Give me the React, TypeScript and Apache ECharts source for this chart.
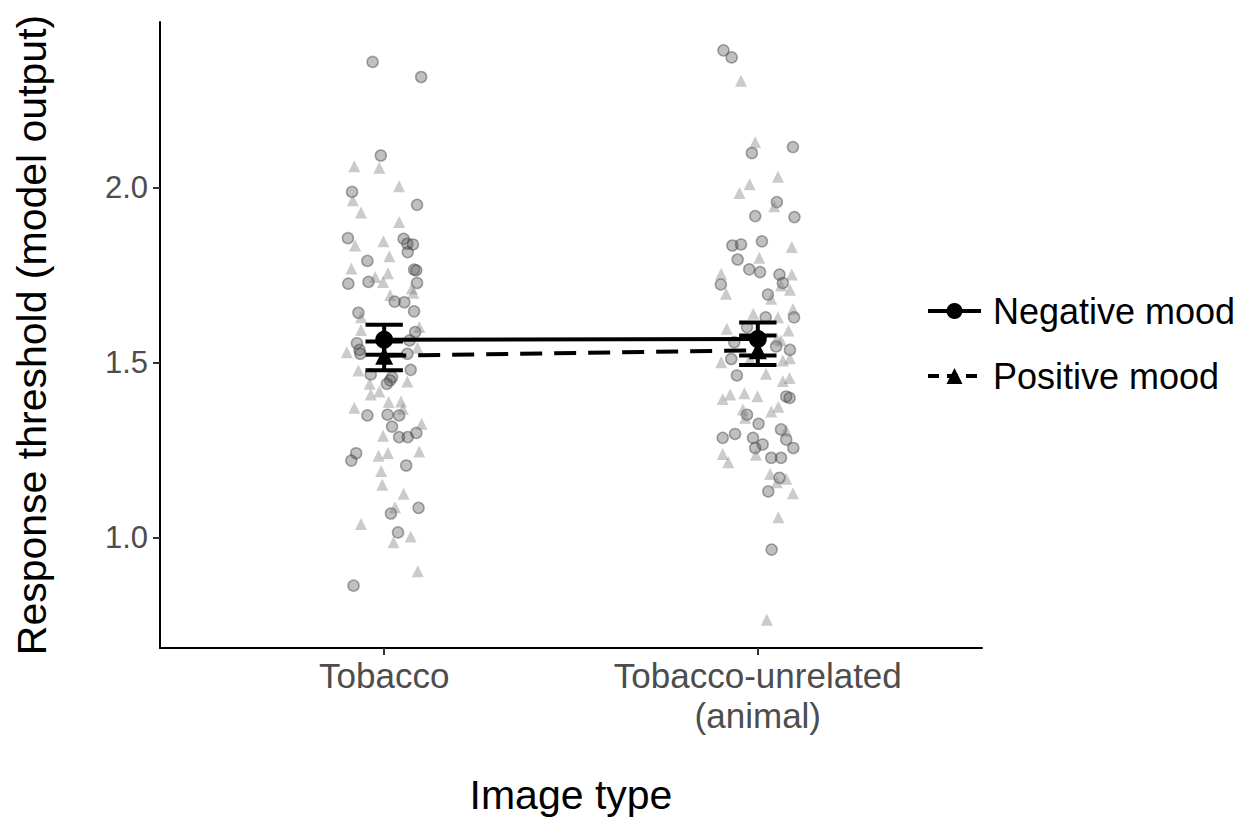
import React, { useEffect, useRef } from "react";
import * as echarts from "echarts";

const categories = ["Tobacco", "Tobacco-unrelated\n(animal)"];
const categoryPositions = [1, 2];
const yTicks = [1.0, 1.5, 2.0];

const negMeans = [1.565, 1.567];
const negSE = [0.043, 0.047];
const posMeans = [1.519, 1.535];
const posSE = [0.041, 0.042];

// jittered individual points [x, y]
const negTobacco = [
  [0.969, 2.358], [1.099, 2.315], [0.991, 2.091], [0.914, 1.987], [1.088, 1.95],
  [0.903, 1.855], [1.052, 1.853], [1.062, 1.839], [1.077, 1.837], [1.063, 1.815],
  [0.955, 1.79], [1.08, 1.765], [1.086, 1.763], [0.904, 1.725], [0.958, 1.73],
  [1.088, 1.727], [1.028, 1.674], [1.054, 1.672], [1.08, 1.646], [0.931, 1.642],
  [1.083, 1.587], [0.927, 1.555], [0.934, 1.536], [0.936, 1.525], [1.068, 1.563],
  [1.062, 1.525], [1.071, 1.479], [0.964, 1.466], [1.021, 1.458], [1.016, 1.449],
  [1.007, 1.439], [0.955, 1.349], [1.009, 1.351], [1.04, 1.349], [1.021, 1.317],
  [1.04, 1.287], [1.063, 1.287], [1.086, 1.299], [0.925, 1.241], [0.912, 1.22],
  [1.059, 1.206], [1.018, 1.069], [1.092, 1.085], [1.037, 1.015], [0.918, 0.863],
];
const posTobacco = [
  [0.92, 2.06], [0.987, 2.056], [1.04, 2.003], [0.916, 1.963], [0.938, 1.928],
  [1.04, 1.901], [0.922, 1.834], [0.998, 1.846], [1.014, 1.803], [0.912, 1.768],
  [1.01, 1.755], [0.976, 1.744], [0.997, 1.73], [1.074, 1.711], [1.078, 1.699],
  [1.016, 1.693], [0.938, 1.629], [1.094, 1.601], [0.938, 1.593], [0.9, 1.529],
  [1.089, 1.542], [0.931, 1.477], [1.062, 1.446], [0.961, 1.439], [0.987, 1.417],
  [0.964, 1.409], [1.012, 1.387], [1.045, 1.389], [1.05, 1.368], [0.92, 1.371],
  [1.1, 1.325], [0.997, 1.291], [0.985, 1.234], [1.01, 1.242], [1.094, 1.246],
  [0.992, 1.19], [0.995, 1.151], [1.052, 1.125], [1.029, 1.087], [0.938, 1.039],
  [1.071, 1.003], [1.025, 0.987], [1.09, 0.904],
];
const negAnimal = [
  [1.908, 2.391], [1.93, 2.371], [1.984, 2.098], [2.094, 2.115], [2.051, 1.958],
  [1.993, 1.918], [2.098, 1.915], [1.932, 1.834], [1.955, 1.837], [2.011, 1.846],
  [1.946, 1.794], [1.977, 1.766], [2.006, 1.758], [2.058, 1.751], [1.901, 1.723],
  [2.067, 1.727], [2.027, 1.694], [2.021, 1.629], [2.097, 1.629], [1.971, 1.601],
  [1.937, 1.558], [2.049, 1.546], [2.086, 1.536], [1.929, 1.51], [1.944, 1.463],
  [2.076, 1.403], [2.085, 1.399], [1.971, 1.351], [2.002, 1.325], [2.062, 1.309],
  [1.939, 1.296], [1.906, 1.285], [1.987, 1.285], [2.076, 1.28], [2.013, 1.266],
  [1.993, 1.256], [2.095, 1.256], [2.036, 1.228], [2.062, 1.228], [2.058, 1.171],
  [2.028, 1.132], [2.037, 0.966],
];
const posAnimal = [
  [1.955, 2.304], [1.993, 2.129], [2.054, 2.03], [1.978, 2.009], [1.951, 1.984],
  [2.044, 1.946], [2.091, 1.83], [2.004, 1.799], [1.902, 1.753], [2.091, 1.751],
  [2.062, 1.72], [1.915, 1.696], [2.086, 1.708], [2.036, 1.682], [2.094, 1.653],
  [1.988, 1.639], [2.054, 1.629], [2.082, 1.591], [1.917, 1.596], [2.051, 1.568],
  [2.062, 1.563], [1.902, 1.501], [1.979, 1.51], [2.067, 1.506], [2.086, 1.512],
  [2.022, 1.468], [2.067, 1.447], [2.085, 1.456], [1.906, 1.396], [1.926, 1.409],
  [1.964, 1.412], [1.999, 1.404], [2.055, 1.374], [1.96, 1.366], [2.036, 1.36],
  [1.966, 1.342], [2.076, 1.306], [1.906, 1.239], [1.921, 1.215], [1.995, 1.237],
  [2.033, 1.182], [2.076, 1.168], [2.051, 1.158], [2.094, 1.127], [2.055, 1.058],
  [2.024, 0.766],
];

const FONT = "'Liberation Sans', Arial, Helvetica, sans-serif";

function errorBarSeries(name: string, means: number[], se: number[]) {
  const data = categoryPositions.map((x, i) => [x, means[i] - se[i], means[i] + se[i]]);
  return {
    type: "custom",
    name: name + " error",
    z: 5,
    renderItem: (params: any, api: any) => {
      const x = api.value(0);
      const lo = api.value(1);
      const hi = api.value(2);
      const w = 0.05;
      const pLo = api.coord([x, lo]);
      const pHi = api.coord([x, hi]);
      const pLoL = api.coord([x - w, lo]);
      const pLoR = api.coord([x + w, lo]);
      const pHiL = api.coord([x - w, hi]);
      const pHiR = api.coord([x + w, hi]);
      const style = { stroke: "#000", lineWidth: 4, fill: null };
      return {
        type: "group",
        children: [
          { type: "line", shape: { x1: pLo[0], y1: pLo[1], x2: pHi[0], y2: pHi[1] }, style },
          { type: "line", shape: { x1: pLoL[0], y1: pLoL[1], x2: pLoR[0], y2: pLoR[1] }, style },
          { type: "line", shape: { x1: pHiL[0], y1: pHiL[1], x2: pHiR[0], y2: pHiR[1] }, style },
        ],
      };
    },
    data,
  };
}

export default function App() {
  const ref = useRef<HTMLDivElement>(null);
  useEffect(() => {
    if (!ref.current) return;
    const chart = echarts.init(ref.current, null, { renderer: "svg" });
    const circleStyle = {
      color: "rgba(80,80,80,0.45)",
      borderColor: "rgba(60,60,60,0.55)",
      borderWidth: 1.5,
    };
    const triStyle = { color: "rgba(120,120,120,0.48)" };
    chart.setOption({
      animation: false,
      backgroundColor: "#fff",
      textStyle: { fontFamily: FONT },
      grid: { left: 160, right: 268, top: 22, bottom: 175, containLabel: false },
      legend: {
        orient: "vertical",
        left: 921,
        top: 286,
        itemWidth: 53,
        itemHeight: 20,
        itemGap: 25,
        data: [
          { name: "Negative mood", lineStyle: { width: 4, type: "solid", color: "#000" } },
          { name: "Positive mood", lineStyle: { width: 4, type: [11, 8], color: "#000" } },
        ],
        lineStyle: { width: 4 },
        textStyle: { fontSize: 36, color: "#000", fontFamily: FONT, lineHeight: 40, padding: [0, 0, 0, 7] },
      },
      xAxis: {
        type: "value",
        min: 0.4,
        max: 2.6,
        name: "Image type",
        nameLocation: "middle",
        nameGap: 126,
        nameTextStyle: { fontSize: 41, color: "#000", fontFamily: FONT },
        axisLine: { show: true, lineStyle: { color: "#000", width: 2 } },
        axisTick: { show: true, length: 7, customValues: categoryPositions, lineStyle: { color: "#333", width: 2 } },
        axisLabel: {
          customValues: categoryPositions,
          margin: 7,
          fontSize: 35,
          lineHeight: 40,
          color: "#4d4d4d",
          fontFamily: FONT,
          formatter: (v: number) => {
            const i = categoryPositions.indexOf(Math.round(v));
            return i >= 0 ? categories[i] : "";
          },
        },
        splitLine: { show: false },
      },
      yAxis: {
        type: "value",
        min: 0.685,
        max: 2.472,
        name: "Response threshold (model output)",
        nameLocation: "middle",
        nameGap: 108,
        nameTextStyle: { fontSize: 41, color: "#000", fontFamily: FONT },
        axisLine: { show: true, lineStyle: { color: "#000", width: 2 } },
        axisTick: { show: true, length: 7, customValues: yTicks, lineStyle: { color: "#333", width: 2 } },
        axisLabel: {
          customValues: yTicks,
          margin: 12,
          fontSize: 31,
          color: "#4d4d4d",
          fontFamily: FONT,
          formatter: (v: number) => v.toFixed(1),
        },
        splitLine: { show: false },
      },
      series: [
        { type: "scatter", name: "neg pts T", data: negTobacco, symbol: "circle", symbolSize: 11, itemStyle: circleStyle, z: 2 },
        { type: "scatter", name: "neg pts A", data: negAnimal, symbol: "circle", symbolSize: 11, itemStyle: circleStyle, z: 2 },
        { type: "scatter", name: "pos pts T", data: posTobacco, symbol: "triangle", symbolSize: 12, itemStyle: triStyle, z: 2 },
        { type: "scatter", name: "pos pts A", data: posAnimal, symbol: "triangle", symbolSize: 12, itemStyle: triStyle, z: 2 },
        errorBarSeries("Negative mood", negMeans, negSE),
        errorBarSeries("Positive mood", posMeans, posSE),
        {
          type: "line",
          name: "Negative mood",
          data: categoryPositions.map((x, i) => [x, negMeans[i]]),
          symbol: "circle",
          symbolSize: 18,
          lineStyle: { color: "#000", width: 4, type: "solid" },
          itemStyle: { color: "#000" },
          z: 6,
        },
        {
          type: "line",
          name: "Positive mood",
          data: categoryPositions.map((x, i) => [x, posMeans[i]]),
          symbol: "triangle",
          symbolSize: 18,
          lineStyle: { color: "#000", width: 4, type: [22, 12] },
          itemStyle: { color: "#000" },
          z: 6,
        },
      ],
    });
    return () => chart.dispose();
  }, []);
  return (
    <div
      ref={ref}
      style={{ position: "fixed", left: 0, top: 0, width: 1250, height: 823, background: "#fff" }}
    />
  );
}
